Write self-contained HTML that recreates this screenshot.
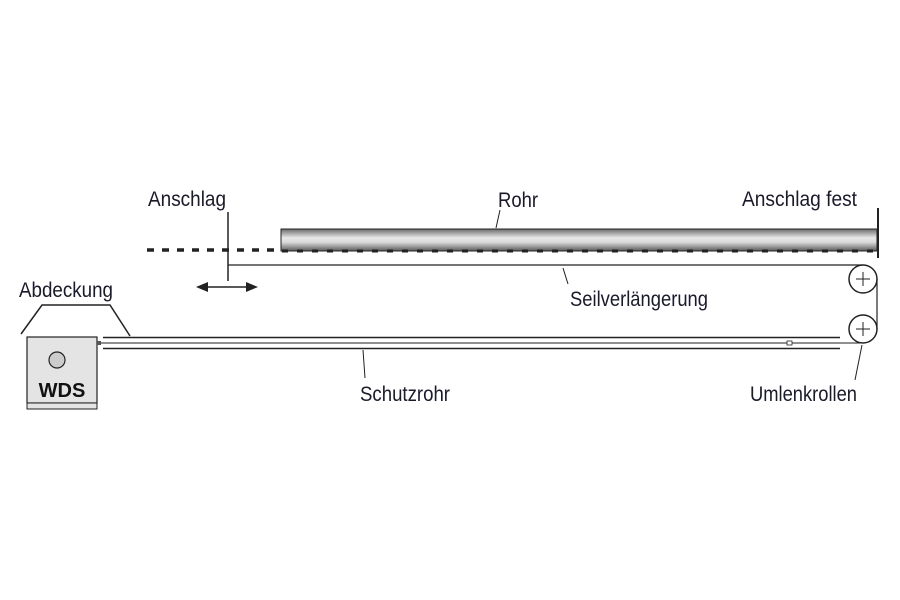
<!DOCTYPE html>
<html><head><meta charset="utf-8"><style>
html,body{margin:0;padding:0;background:#fff;width:900px;height:600px;overflow:hidden}
text{font-family:"Liberation Sans Narrow","Liberation Sans",sans-serif;font-size:21px;fill:#1a1a2a}
</style></head><body>
<svg width="900" height="600" viewBox="0 0 900 600" xmlns="http://www.w3.org/2000/svg">
<defs>
<linearGradient id="g" x1="0" y1="0" x2="0" y2="1">
<stop offset="0" stop-color="#6a6a6a"/><stop offset="0.4" stop-color="#e8e8e8"/><stop offset="0.6" stop-color="#dadada"/><stop offset="1" stop-color="#5a5a5a"/>
</linearGradient>
</defs>
<rect x="281" y="229" width="596" height="22" fill="url(#g)" stroke="#222" stroke-width="1"/>
<line x1="282" y1="251" x2="876" y2="251" stroke="#222" stroke-width="3" stroke-dasharray="6,9"/>
<line x1="147" y1="250" x2="280" y2="250" stroke="#222" stroke-width="3.5" stroke-dasharray="7,8"/>
<line x1="878" y1="208" x2="878" y2="258" stroke="#222" stroke-width="2"/>
<line x1="228" y1="212" x2="228" y2="281" stroke="#222" stroke-width="1.5"/>
<line x1="228" y1="265" x2="863" y2="265" stroke="#222" stroke-width="1.2"/>
<line x1="204" y1="287" x2="250" y2="287" stroke="#222" stroke-width="1.5"/>
<polygon points="196,287 208,282 208,292" fill="#222"/>
<polygon points="258,287 246,282 246,292" fill="#222"/>
<circle cx="863" cy="279" r="14" fill="#fff" stroke="#222" stroke-width="1.5"/>
<circle cx="863" cy="329" r="14" fill="#fff" stroke="#222" stroke-width="1.5"/>
<path d="M856 279h14M863 272v14M856 329h14M863 322v14" stroke="#222" stroke-width="1"/>
<line x1="877" y1="279" x2="877" y2="329" stroke="#222" stroke-width="1.2"/>
<line x1="103" y1="337.5" x2="840" y2="337.5" stroke="#222" stroke-width="1.5"/>
<line x1="103" y1="348.5" x2="840" y2="348.5" stroke="#222" stroke-width="1.5"/>
<line x1="97" y1="343" x2="863" y2="343" stroke="#222" stroke-width="1"/>
<rect x="787" y="341" width="5" height="4" fill="#fff" stroke="#222" stroke-width="0.8"/>
<rect x="27" y="337" width="70" height="66" fill="#e4e4e4" stroke="#222" stroke-width="1.2"/>
<rect x="27" y="403" width="70" height="6" fill="#e4e4e4" stroke="#222" stroke-width="1"/>
<rect x="97" y="341" width="4" height="4" fill="#555"/>
<circle cx="57" cy="360" r="8" fill="#ccc" stroke="#222" stroke-width="1.2"/>
<text x="62" y="397" text-anchor="middle" style="font-family:'Liberation Sans',sans-serif;font-weight:bold;font-size:20px;fill:#111">WDS</text>
<polyline points="21,334 42,305 110,305 130,336" fill="none" stroke="#222" stroke-width="1.5"/>
<line x1="500" y1="210" x2="496" y2="228" stroke="#222" stroke-width="1"/>
<line x1="568" y1="284" x2="563" y2="268" stroke="#222" stroke-width="1"/>
<line x1="363" y1="350" x2="365" y2="378" stroke="#222" stroke-width="1"/>
<line x1="862" y1="345" x2="855" y2="380" stroke="#222" stroke-width="1"/>
<text x="148" y="206" textLength="78" lengthAdjust="spacingAndGlyphs">Anschlag</text>
<text x="498" y="207" textLength="40" lengthAdjust="spacingAndGlyphs">Rohr</text>
<text x="742" y="206" textLength="115" lengthAdjust="spacingAndGlyphs">Anschlag fest</text>
<text x="19" y="297" textLength="94" lengthAdjust="spacingAndGlyphs">Abdeckung</text>
<text x="570" y="306" textLength="138" lengthAdjust="spacingAndGlyphs">Seilverlängerung</text>
<text x="360" y="401" textLength="90" lengthAdjust="spacingAndGlyphs">Schutzrohr</text>
<text x="750" y="401" textLength="107" lengthAdjust="spacingAndGlyphs">Umlenkrollen</text>
</svg>
</body></html>
